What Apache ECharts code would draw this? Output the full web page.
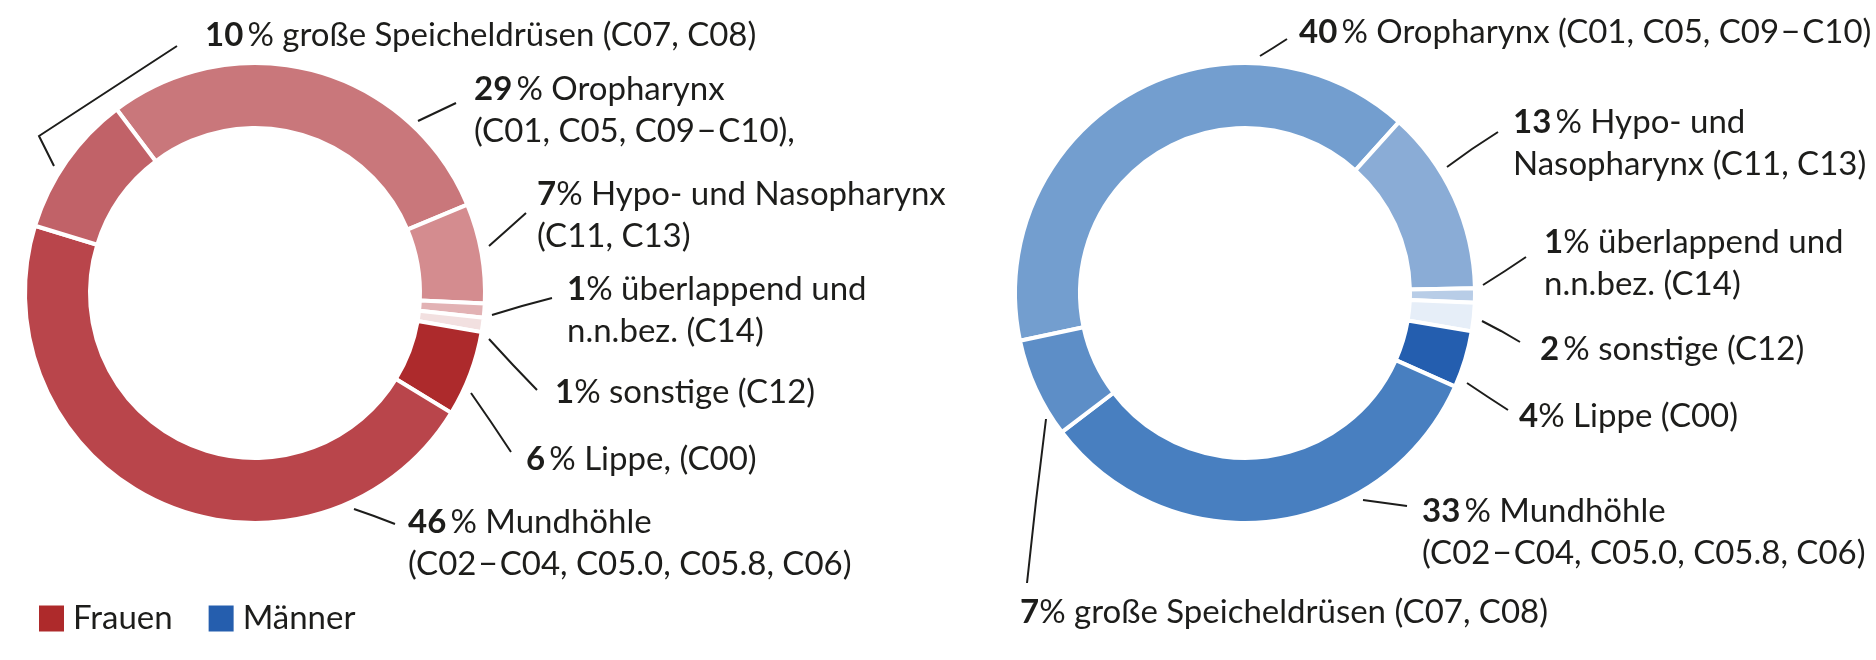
<!DOCTYPE html>
<html>
<head>
<meta charset="utf-8">
<script src="https://cdn.jsdelivr.net/npm/echarts@6/dist/echarts.min.js"></script>
<style>
  html, body { margin: 0; padding: 0; background: #fff; }
  #chart { width: 1876px; height: 660px; }
</style>
</head>
<body>
<div id="chart"></div>
<script>
// Mundhöhle und Rachen – Verteilung nach Lokalisation (Anteil in %)
var categories = ['Oropharynx', 'Hypo- und Nasopharynx', 'überlappend und n.n.bez.', 'sonstige', 'Lippe', 'Mundhöhle', 'große Speicheldrüsen'];
var frauenValues = [29, 7, 1, 1, 6, 46, 10];
var maennerValues = [40, 13, 1, 2, 4, 33, 7];

// label texts (after the percentage)
var frauenTexts = [
  'Oropharynx\n(C01, C05, C09\u200a\u2212\u200aC10),',
  'Hypo- und Nasopharynx\n(C11, C13)',
  'überlappend und\nn.n.bez. (C14)',
  'sonstige (C12)',
  'Lippe, (C00)',
  'Mundhöhle\n(C02\u200a\u2212\u200aC04, C05.0, C05.8, C06)',
  'große Speicheldrüsen (C07, C08)'
];
var maennerTexts = [
  'Oropharynx (C01, C05, C09\u200a\u2212\u200aC10)',
  'Hypo- und\nNasopharynx (C11, C13)',
  'überlappend und\nn.n.bez. (C14)',
  'sonstige (C12)',
  'Lippe (C00)',
  'Mundhöhle\n(C02\u200a\u2212\u200aC04, C05.0, C05.8, C06)',
  'große Speicheldrüsen (C07, C08)'
];
var legendNames = ['Frauen', 'Männer'];

var frauenColors = ['#c9777b', '#d48c8f', '#e2b2b4', '#f2e0e0', '#ad2a2c', '#b9454b', '#c16268'];
var maennerColors = ['#739ecf', '#8aacd6', '#b8cde7', '#e6eef8', '#245eaf', '#487fc0', '#5d8ec7'];

// hand placed labels and leader lines, like the print layout
var frauenLayout = [
  { x: 474, y: 68, gap: true, line: [[418, 121], [437, 112], [456, 103]] },
  { x: 537, y: 173, gap: false, line: [[489, 246], [507, 230], [526, 213]] },
  { x: 567, y: 268, gap: false, line: [[492, 315], [522, 306], [552, 298]] },
  { x: 555, y: 371, gap: false, line: [[489, 339], [513, 365], [537, 390]] },
  { x: 526, y: 438, gap: true, line: [[471, 393], [491, 422], [511, 452]] },
  { x: 408, y: 501, gap: true, line: [[354, 509], [374, 516], [395, 524]] },
  { x: 205, y: 14, gap: true, line: [[54, 166], [39, 136], [177, 46]] }
];
var maennerLayout = [
  { x: 1299, y: 11, gap: true, line: [[1260, 56], [1273, 48], [1287, 39]] },
  { x: 1513, y: 101, gap: true, line: [[1447, 167], [1472, 149], [1498, 132]] },
  { x: 1544, y: 221, gap: false, line: [[1483, 285], [1505, 271], [1526, 257]] },
  { x: 1540, y: 328, gap: true, line: [[1482, 321], [1501, 331], [1520, 342]] },
  { x: 1519, y: 395, gap: false, line: [[1467, 383], [1488, 397], [1508, 410]] },
  { x: 1422, y: 490, gap: true, line: [[1363, 500], [1385, 503], [1407, 506]] },
  { x: 1020, y: 591, gap: false, line: [[1046, 419], [1036, 501], [1027, 583]] }
];

var textColor = '#1d1d1b';
var fontFamily = 'Lato, "Open Sans", sans-serif';
var fontSize = 33;

var makeData = function makeData(values, colors) {
  return values.map(function (v, i) {
    return { name: categories[i], value: v, itemStyle: { color: colors[i] } };
  });
};

var makeSeries = function makeSeries(name, center, values, colors, texts, layout, startAngle) {
  return {
    type: 'pie',
    name: name,
    center: center,
    radius: [165, 230],
    startAngle: startAngle,
    clockwise: true,
    avoidLabelOverlap: false,
    silent: true,
    itemStyle: { borderColor: '#fff', borderWidth: 4 },
    label: {
      show: true,
      color: textColor,
      fontFamily: fontFamily,
      fontSize: fontSize,
      lineHeight: 42,
      formatter: function formatter(p) {
        var sep = layout[p.dataIndex].gap ? '\u2009' : '';
        return '{b|' + p.value + '}' + sep + '% ' + texts[p.dataIndex];
      },
      rich: {
        b: { fontWeight: 'bold', fontFamily: fontFamily, fontSize: fontSize, lineHeight: 42, color: textColor }
      }
    },
    labelLine: {
      show: true,
      smooth: false,
      lineStyle: { color: textColor, width: 2 }
    },
    labelLayout: function labelLayout(params) {
      var l = layout[params.dataIndex];
      return { x: l.x, y: l.y, align: 'left', verticalAlign: 'top', labelLinePoints: l.line };
    },
    emphasis: { disabled: true },
    animation: false,
    data: makeData(values, colors)
  };
};

var chart = echarts.init(document.getElementById('chart'));
chart.setOption({
  backgroundColor: '#fff',
  animation: false,
  legend: {
    left: 32,
    top: 597,
    orient: 'horizontal',
    icon: 'rect',
    itemWidth: 27,
    itemHeight: 28,
    itemGap: 34,
    selectedMode: false,
    textStyle: { color: textColor, fontFamily: fontFamily, fontSize: fontSize, padding: [0, 0, 0, 3] },
    data: [
      { name: legendNames[0], itemStyle: { color: '#ae2a2b' } },
      { name: legendNames[1], itemStyle: { color: '#255eae' } }
    ]
  },
  series: [
    makeSeries(legendNames[0], [255, 293], frauenValues, frauenColors, frauenTexts, frauenLayout, 127),
    makeSeries(legendNames[1], [1245, 293], maennerValues, maennerColors, maennerTexts, maennerLayout, 192)
  ]
});
</script>
</body>
</html>
